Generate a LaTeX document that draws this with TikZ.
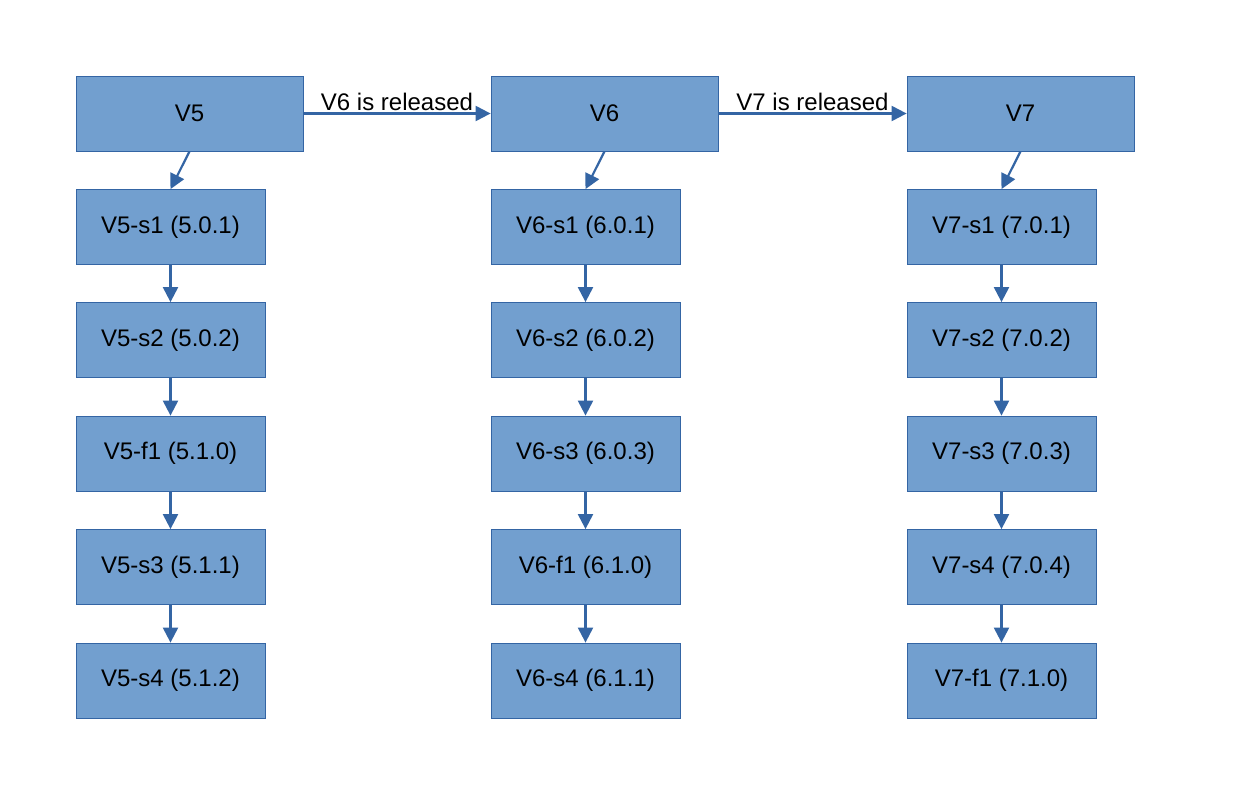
\documentclass[tikz,border=0pt]{standalone}
\usepackage{fontspec}
\setmainfont{Liberation Sans}
\usetikzlibrary{arrows.meta}
\definecolor{boxfill}{HTML}{729FCF}
\definecolor{boxline}{HTML}{3465A4}
\tikzset{
  bigbox/.style={draw=boxline, fill=boxfill, line width=0.8pt, minimum width=227pt, minimum height=75pt, inner sep=0pt, font=\fontsize{24}{28}\selectfont},
  smallbox/.style={draw=boxline, fill=boxfill, line width=0.8pt, minimum width=189pt, minimum height=75pt, inner sep=0pt, font=\fontsize{24}{28}\selectfont},
  conn/.style={draw=boxline, line width=2.2pt, -{Triangle[length=15pt,width=15pt]}},
  lbl/.style={font=\fontsize{24}{28}\selectfont, inner sep=1pt}
}
\begin{document}
\begin{tikzpicture}[x=1pt,y=-1pt]
\useasboundingbox (0,0) rectangle (1247,794);
% top row
\node[bigbox] (v5) at (189.5,113.5) {V5};
\node[bigbox] (v6) at (604.5,113.5) {V6};
\node[bigbox] (v7) at (1020.5,113.5) {V7};
% column V5
\node[smallbox] (a1) at (170.5,227) {V5-s1 (5.0.1)};
\node[smallbox] (a2) at (170.5,340) {V5-s2 (5.0.2)};
\node[smallbox] (a3) at (170.5,453.5) {V5-f1 (5.1.0)};
\node[smallbox] (a4) at (170.5,567) {V5-s3 (5.1.1)};
\node[smallbox] (a5) at (170.5,680.5) {V5-s4 (5.1.2)};
% column V6
\node[smallbox] (b1) at (585.5,227) {V6-s1 (6.0.1)};
\node[smallbox] (b2) at (585.5,340) {V6-s2 (6.0.2)};
\node[smallbox] (b3) at (585.5,453.5) {V6-s3 (6.0.3)};
\node[smallbox] (b4) at (585.5,567) {V6-f1 (6.1.0)};
\node[smallbox] (b5) at (585.5,680.5) {V6-s4 (6.1.1)};
% column V7
\node[smallbox] (c1) at (1001.5,227) {V7-s1 (7.0.1)};
\node[smallbox] (c2) at (1001.5,340) {V7-s2 (7.0.2)};
\node[smallbox] (c3) at (1001.5,453.5) {V7-s3 (7.0.3)};
\node[smallbox] (c4) at (1001.5,567) {V7-s4 (7.0.4)};
\node[smallbox] (c5) at (1001.5,680.5) {V7-f1 (7.1.0)};
% horizontal
\draw[conn] (v5.east) -- node[lbl, above=1pt] {V6 is released} (v6.west);
\draw[conn] (v6.east) -- node[lbl, above=1pt] {V7 is released} (v7.west);
% diagonal
\draw[conn] (v5.south) -- (a1.north);
\draw[conn] (v6.south) -- (b1.north);
\draw[conn] (v7.south) -- (c1.north);
% vertical
\foreach \p in {a,b,c}{
  \draw[conn] (\p1) -- (\p2);
  \draw[conn] (\p2) -- (\p3);
  \draw[conn] (\p3) -- (\p4);
  \draw[conn] (\p4) -- (\p5);
}
\end{tikzpicture}
\end{document}
